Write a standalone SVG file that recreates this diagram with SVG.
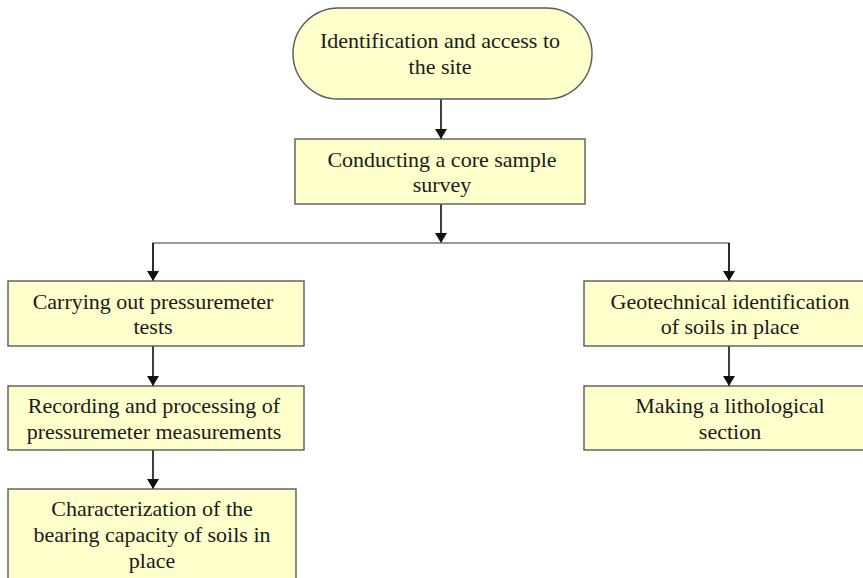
<svg xmlns="http://www.w3.org/2000/svg" width="863" height="578" viewBox="0 0 863 578">
<style>
.box{fill:#FFFFCC;stroke:#5a5a5a;stroke-width:1.4}
.t{font-family:"Liberation Serif","Times New Roman",serif;font-size:22px;fill:#1a1a1a;text-anchor:middle}
.c{stroke:#111;stroke-width:1.6;fill:none}
.h{stroke:#7a7a7a;stroke-width:1.6;fill:none}
</style>
<defs>
<marker id="arr" markerWidth="10" markerHeight="12" refX="10" refY="6" orient="auto" markerUnits="userSpaceOnUse">
<path d="M0,0 L10,6 L0,12 Z" fill="#111"/>
</marker>
</defs>
<rect width="863" height="578" fill="#fff"/>
<g id="connectors">
<line class="c" x1="441" y1="99" x2="441" y2="139" marker-end="url(#arr)"/>
<line class="c" x1="441" y1="204" x2="441" y2="243" marker-end="url(#arr)"/>
<polyline class="h" points="153,281 153,243 729,243 729,281"/>
<line class="c" x1="153" y1="243" x2="153" y2="281" marker-end="url(#arr)"/>
<line class="c" x1="729" y1="243" x2="729" y2="281" marker-end="url(#arr)"/>
<line class="c" x1="153" y1="346" x2="153" y2="386" marker-end="url(#arr)"/>
<line class="c" x1="153" y1="450" x2="153" y2="489" marker-end="url(#arr)"/>
<line class="c" x1="729" y1="346" x2="729" y2="386" marker-end="url(#arr)"/>
</g>
<g id="n-start">
<rect class="box" x="293" y="8" width="299" height="91" rx="45.5" ry="45.5"/>
<text class="t" x="440" y="48">Identification and access to</text>
<text class="t" x="440" y="74">the site</text>
</g>
<g id="n-core">
<rect class="box" x="295" y="139" width="290" height="65"/>
<text class="t" x="442" y="167">Conducting a core sample</text>
<text class="t" x="442" y="192">survey</text>
</g>
<g id="n-press">
<rect class="box" x="8" y="281" width="296" height="65"/>
<text class="t" x="153" y="309">Carrying out pressuremeter</text>
<text class="t" x="153" y="334">tests</text>
</g>
<g id="n-record">
<rect class="box" x="8" y="386" width="296" height="64"/>
<text class="t" x="154" y="413">Recording and processing of</text>
<text class="t" x="154" y="439">pressuremeter measurements</text>
</g>
<g id="n-bearing">
<rect class="box" x="8" y="489" width="288" height="100"/>
<text class="t" x="152" y="516">Characterization of the</text>
<text class="t" x="152" y="542">bearing capacity of soils in</text>
<text class="t" x="152" y="568">place</text>
</g>
<g id="n-geo">
<rect class="box" x="584" y="281" width="292" height="65"/>
<text class="t" x="730" y="309">Geotechnical identification</text>
<text class="t" x="730" y="334">of soils in place</text>
</g>
<g id="n-litho">
<rect class="box" x="584" y="386" width="292" height="64"/>
<text class="t" x="730" y="413">Making a lithological</text>
<text class="t" x="730" y="439">section</text>
</g>
</svg>
